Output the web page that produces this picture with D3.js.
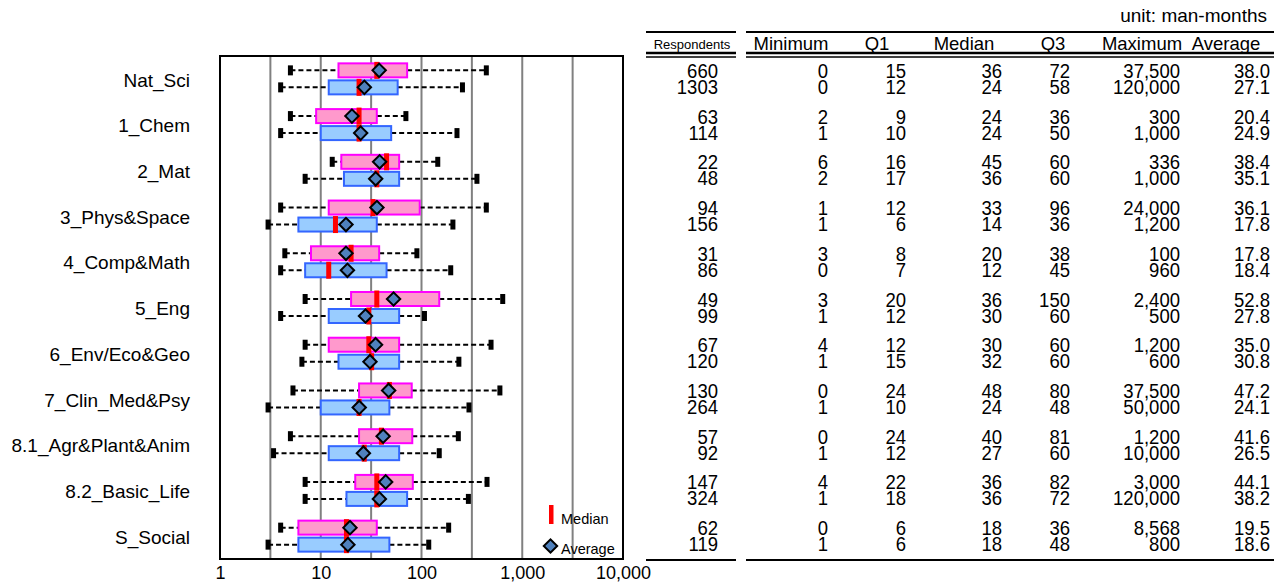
<!DOCTYPE html>
<html><head><meta charset="utf-8">
<script src="https://cdn.jsdelivr.net/npm/d3@7"></script>
<style>
body{margin:0;background:#fff;}
svg{display:block;font-family:"Liberation Sans",Arial,sans-serif;}
</style></head>
<body><svg id="c" width="1282" height="584"></svg>
<script>
const categories = ["Nat_Sci","1_Chem","2_Mat","3_Phys&Space","4_Comp&Math","5_Eng","6_Env/Eco&Geo","7_Clin_Med&Psy","8.1_Agr&Plant&Anim","8.2_Basic_Life","S_Social"];
const series = ["A","B"];
// table values: respondents, minimum, Q1, median, Q3, maximum, average
const respA = [660,63,22,94,31,49,67,130,57,147,62];
const respB = [1303,114,48,156,86,99,120,264,92,324,119];
const minA = [0,2,6,1,3,3,4,0,0,4,0];
const minB = [0,1,2,1,0,1,1,1,1,1,1];
const q1A = [15,9,16,12,8,20,12,24,24,22,6];
const q1B = [12,10,17,6,7,12,15,10,12,18,6];
const medA = [36,24,45,33,20,36,30,48,40,36,18];
const medB = [24,24,36,14,12,30,32,24,27,36,18];
const q3A = [72,36,60,96,38,150,60,80,81,82,36];
const q3B = [58,50,60,36,45,60,60,48,60,72,48];
const maxA = [37500,300,336,24000,100,2400,1200,37500,1200,3000,8568];
const maxB = [120000,1000,1000,1200,960,500,600,50000,10000,120000,800];
const avgA = [38.0,20.4,38.4,36.1,17.8,52.8,35.0,47.2,41.6,44.1,19.5];
const avgB = [27.1,24.9,35.1,17.8,18.4,27.8,30.8,24.1,26.5,38.2,18.6];
// whisker ends as drawn in the chart
const whiskLoA = [5,5,13,4,4.4,7,7,5.3,5,7,4];
const whiskHiA = [440,70,145,440,90,640,490,600,232,447,186];
const whiskLoB = [4,4,7,3,4,4,6.5,3,3.4,7,3];
const whiskHiB = [255,225,355,205,195,107,235,296,150,292,118];
const axisTicks = [1,10,100,1000,10000];
const gridValues = [Math.sqrt(10),10,Math.sqrt(1000),100,Math.sqrt(100000),1000,Math.sqrt(10000000)];
const tableHeaders = ["Minimum","Q1","Median","Q3","Maximum","Average"];

const svg = d3.select("#c");
const x = d3.scaleLog().domain([1,10000]).range([220,623]);
const y = d3.scaleBand().domain(categories).range([56,559]);
const ys = d3.scaleBand().domain(series).range([-17,17]);

const rows = categories.map((c,i)=>({
  cat:c,
  s:[
    {key:"A",q1:q1A[i],med:medA[i],q3:q3A[i],avg:avgA[i],lo:whiskLoA[i],hi:whiskHiA[i],fill:"#ff99cc",stroke:"#ff00ff"},
    {key:"B",q1:q1B[i],med:medB[i],q3:q3B[i],avg:avgB[i],lo:whiskLoB[i],hi:whiskHiB[i],fill:"#99ccff",stroke:"#3366ff"}
  ]
}));

// gridlines
svg.append("g").selectAll("line").data(gridValues).join("line")
  .attr("x1",d=>x(d)).attr("x2",d=>x(d)).attr("y1",56).attr("y2",559)
  .attr("stroke","#808080").attr("stroke-width",2);

const g = svg.append("g");
const grp = g.selectAll("g.cat").data(rows).join("g")
  .attr("transform",d=>`translate(0,${y(d.cat)+y.bandwidth()/2})`);
const item = grp.selectAll("g.s").data(d=>d.s).join("g")
  .attr("transform",d=>`translate(0,${ys(d.key)+ys.bandwidth()/2})`);

// whiskers
item.append("line").attr("x1",d=>x(d.lo)).attr("x2",d=>x(d.q1)).attr("y1",0).attr("y2",0)
  .attr("stroke","#000").attr("stroke-width",2).attr("stroke-dasharray","5,3");
item.append("line").attr("x1",d=>x(d.q3)).attr("x2",d=>x(d.hi)).attr("y1",0).attr("y2",0)
  .attr("stroke","#000").attr("stroke-width",2).attr("stroke-dasharray","5,3");
item.append("rect").attr("x",d=>x(d.lo)-2.5).attr("y",-5).attr("width",5).attr("height",10).attr("fill","#000");
item.append("rect").attr("x",d=>x(d.hi)-2.5).attr("y",-5).attr("width",5).attr("height",10).attr("fill","#000");
// box
item.append("rect").attr("x",d=>x(d.q1)).attr("y",-7).attr("width",d=>x(d.q3)-x(d.q1)).attr("height",14)
  .attr("fill",d=>d.fill).attr("stroke",d=>d.stroke).attr("stroke-width",2);
// median
item.append("rect").attr("x",d=>x(d.med)-2.5).attr("y",-8.5).attr("width",5).attr("height",17).attr("fill","#ff0000");
// average diamond
const diamond = d3.symbol().type(d3.symbolSquare).size(90)();
item.append("path").attr("d",diamond)
  .attr("transform",d=>`translate(${x(d.avg)},0) rotate(45)`)
  .attr("fill","#4f81bd").attr("stroke","#000").attr("stroke-width",2);

// frame
svg.append("rect").attr("x",220).attr("y",56).attr("width",403).attr("height",503)
  .attr("fill","none").attr("stroke","#000").attr("stroke-width",2);

// category labels
svg.append("g").selectAll("text").data(categories).join("text")
  .attr("x",190).attr("y",d=>y(d)+y.bandwidth()/2+1).attr("dy","0.35em")
  .attr("text-anchor","end").attr("font-size",19).text(d=>d);

// x axis
const ax = svg.append("g").attr("transform","translate(0,563)")
  .call(d3.axisBottom(x).tickValues(axisTicks).tickSize(0).tickFormat(d3.format(",")));
ax.select(".domain").remove();
ax.selectAll("text").attr("font-size",18).attr("font-family","Liberation Sans, Arial, sans-serif").attr("fill","#000").attr("dy","0.71em").attr("y",3);

// legend
svg.append("rect").attr("x",549).attr("y",505).attr("width",4.5).attr("height",19).attr("fill","#ff0000");
svg.append("text").attr("x",561).attr("y",524).attr("font-size",14.5).text("Median");
svg.append("path").attr("d",diamond).attr("transform","translate(550.5,546) rotate(45)")
  .attr("fill","#4f81bd").attr("stroke","#000").attr("stroke-width",2);
svg.append("text").attr("x",561).attr("y",554).attr("font-size",14.5).text("Average");

// table
const tbl = svg.append("g");
const line = (x1,x2,yy,w)=>tbl.append("line").attr("x1",x1).attr("x2",x2).attr("y1",yy).attr("y2",yy).attr("stroke","#000").attr("stroke-width",w);
[[646,736],[746,1274]].forEach(([a,b])=>{ line(a,b,32,2); line(a,b,53,2.5); line(a,b,57,1.5); line(a,b,560,2); });

tbl.append("text").attr("x",1267).attr("y",22).attr("text-anchor","end").attr("font-size",19).text("unit: man-months");
tbl.append("text").attr("x",692).attr("y",49).attr("text-anchor","middle").attr("font-size",13).text("Respondents");
const headerX = [791,877,964,1053,1142,1226];
tbl.selectAll("text.h").data(tableHeaders).join("text").attr("class","h")
  .attr("x",(d,i)=>headerX[i]).attr("y",50).attr("text-anchor","middle").attr("font-size",18.5).text(d=>d);

const colRight = [718,828,906,1002,1070,1180,1270];
const fmtInt = d3.format(",");
const fmtAvg = d3.format(".1f");
const colsA = [respA,minA,q1A,medA,q3A,maxA,avgA];
const colsB = [respB,minB,q1B,medB,q3B,maxB,avgB];
const cells = [];
categories.forEach((c,i)=>{
  const cy = y(c)+y.bandwidth()/2;
  [[colsA,-8],[colsB,8]].forEach(([cols,off])=>{
    cols.forEach((col,j)=>{
      const v = col[i];
      cells.push({x:colRight[j], y:cy+off+7, t: j===0 ? String(v) : (j===6 ? fmtAvg(v) : fmtInt(v))});
    });
  });
});
tbl.selectAll("text.c").data(cells).join("text").attr("class","c")
  .attr("transform",d=>`translate(${d.x},${d.y}) scale(0.95,1.08)`)
  .attr("text-anchor","end").attr("font-size",19.5).text(d=>d.t);
</script></body></html>
